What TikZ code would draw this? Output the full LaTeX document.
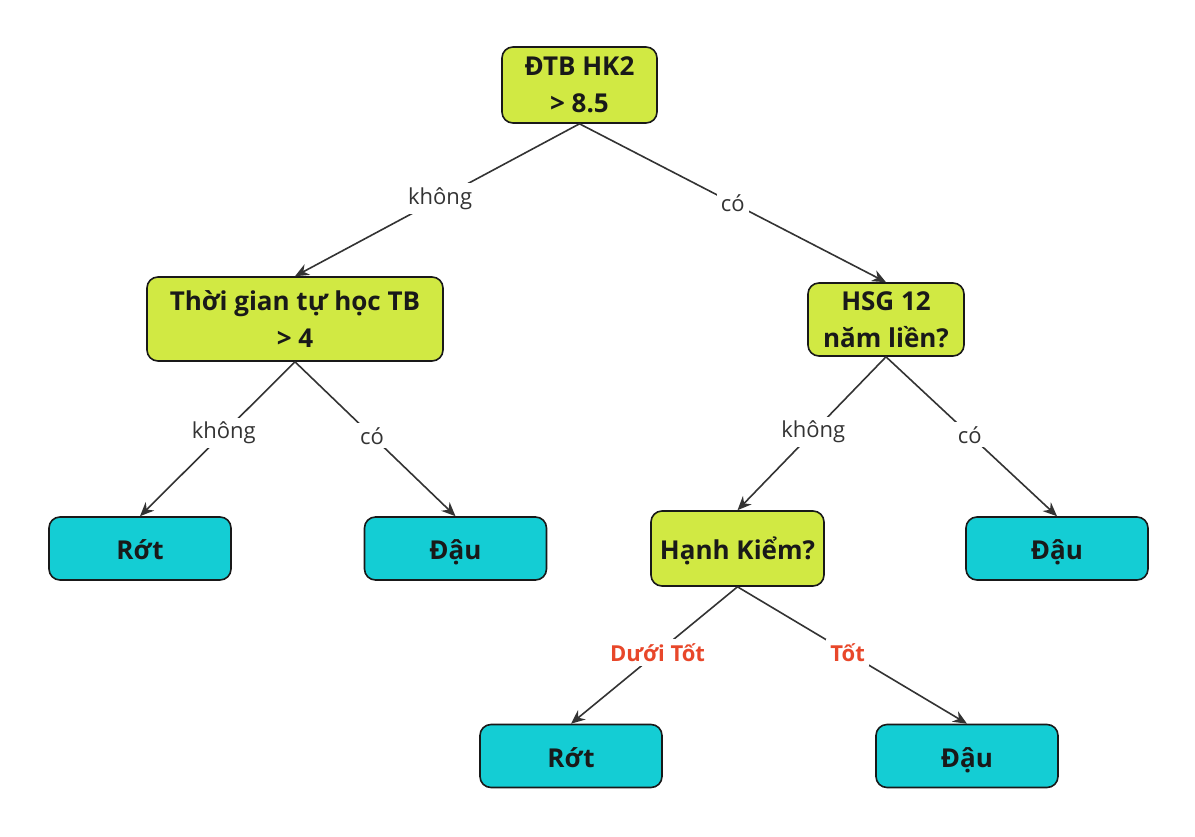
\documentclass[tikz,border=0pt]{standalone}
\usepackage{fontspec}
\setmainfont{Open Sans}
\usetikzlibrary{arrows.meta}
\definecolor{qgreen}{HTML}{D1E943}
\definecolor{qcyan}{HTML}{14CDD4}
\definecolor{qline}{HTML}{333333}
\definecolor{qred}{HTML}{E8472A}
\tikzset{
  box/.style={draw=black!90, line width=1.6pt, rounded corners=11pt, align=center,
    font=\fontsize{26}{37}\selectfont\bfseries, text=black!90, inner sep=0pt},
  qbox/.style={box, fill=qgreen},
  one/.style={text height=26pt, text depth=4pt},
  leaf/.style={box, one, fill=qcyan, minimum width=182pt, minimum height=63pt},
  edge/.style={draw=qline, line width=1.6pt, -{Stealth[length=14pt,width=12pt]}},
  lab/.style={fill=white, text=qline, font=\fontsize{22}{24}\selectfont, inner sep=4pt},
  rlab/.style={fill=white, text=qred, font=\fontsize{22}{24}\selectfont\bfseries, inner sep=4pt}
}
\begin{document}
\begin{tikzpicture}[x=1pt,y=-1pt]
\useasboundingbox[fill=white] (0,0) rectangle (1195,836);
\node[qbox, minimum width=155pt, minimum height=76pt] (root) at (579.5,85) {ĐTB HK2\\> 8.5};
\node[qbox, minimum width=296pt, minimum height=84pt] (tg) at (295,319) {Thời gian tự học TB\\> 4};
\node[qbox, minimum width=156pt, minimum height=73pt] (hsg) at (886,319.5) {HSG 12\\năm liền?};
\node[qbox, one, minimum width=173pt, minimum height=75pt] (hk) at (737.5,548.5) {Hạnh Kiểm?};
\node[leaf] (rot1) at (140,548.5) {Rớt};
\node[leaf] (dau1) at (455.5,548.5) {Đậu};
\node[leaf] (dau2) at (1057,548.5) {Đậu};
\node[leaf] (rot2) at (571,756) {Rớt};
\node[leaf] (dau3) at (967,756) {Đậu};

\draw[edge] (root.south) -- node[lab, pos=0.49] {không} (tg.north);
\draw[edge] (root.south) -- node[lab, pos=0.5] {có} (hsg.north);
\draw[edge] (tg.south) -- node[lab, pos=0.46] {không} (rot1.north);
\draw[edge] (tg.south) -- node[lab, pos=0.48] {có} (dau1.north);
\draw[edge] (hsg.south) -- node[lab, pos=0.49] {không} (hk.north);
\draw[edge] (hsg.south) -- node[lab, pos=0.49] {có} (dau2.north);
\draw[edge] (hk.south) -- node[rlab, pos=0.48] {Dưới Tốt} (rot2.north);
\draw[edge] (hk.south) -- node[rlab, pos=0.48] {Tốt} (dau3.north);
\end{tikzpicture}
\end{document}
